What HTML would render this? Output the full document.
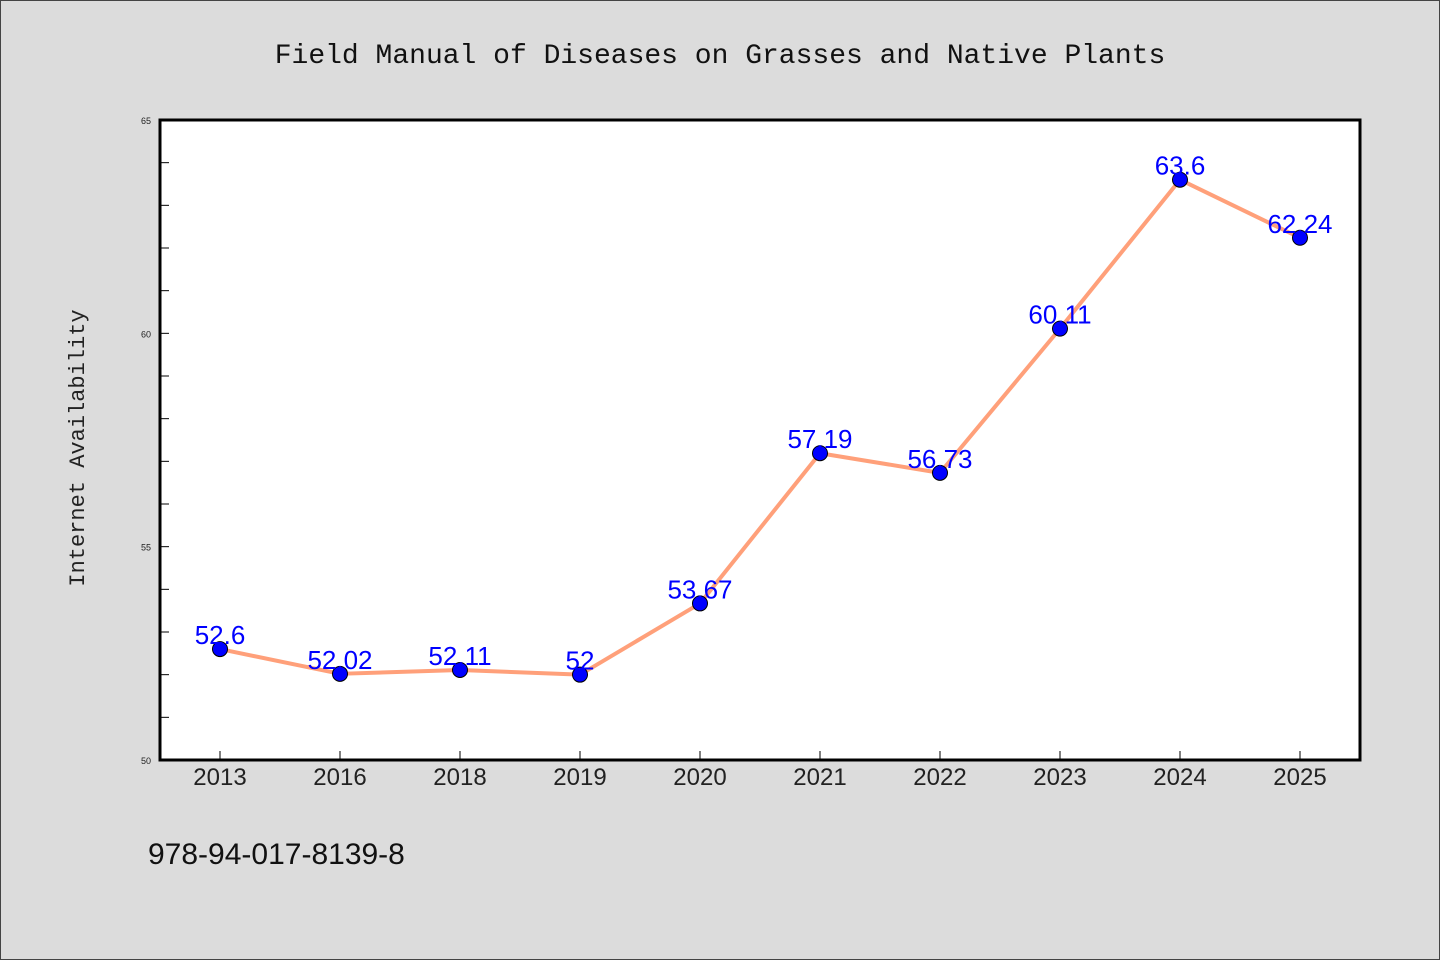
<!DOCTYPE html>
<html><head><meta charset="utf-8"><style>
html,body{margin:0;padding:0;background:#dcdcdc;}
svg{display:block;}
</style></head><body>
<svg width="1440" height="960" xmlns="http://www.w3.org/2000/svg">
<rect x="0.5" y="0.5" width="1439" height="959" fill="#dcdcdc" stroke="#444"/>
<text x="720" y="63" text-anchor="middle" font-family="Liberation Mono, monospace" font-size="28" fill="#111">Field Manual of Diseases on Grasses and Native Plants</text>
<rect x="160" y="120" width="1200" height="640" fill="#fff"/>
<g id="ticks"></g>
<g id="series"></g>
<rect x="160" y="120" width="1200" height="640" fill="none" stroke="#000" stroke-width="3"/>
<text transform="translate(84,448) rotate(-90)" text-anchor="middle" font-family="Liberation Mono, monospace" font-size="22" fill="#222">Internet Availability</text>
<text x="148" y="864" font-family="Liberation Sans, sans-serif" font-size="30" fill="#111">978-94-017-8139-8</text>
</svg>
<script>
const categories = ["2013","2016","2018","2019","2020","2021","2022","2023","2024","2025"];
const values = [52.6,52.02,52.11,52,53.67,57.19,56.73,60.11,63.6,62.24];
const valueLabels = ["52.6","52.02","52.11","52","53.67","57.19","56.73","60.11","63.6","62.24"];
const yTickLabels = [50,55,60,65];
const NS="http://www.w3.org/2000/svg";
const x0=160,x1=1360,y0=760,y1=120,yMin=50,yMax=65;
function xs(i){return x0+(x1-x0)/categories.length*(i+0.5);}
function ys(v){return y0-(v-yMin)/(yMax-yMin)*(y0-y1);}
function mk(tag,attrs,parent){const e=document.createElementNS(NS,tag);for(const k in attrs)e.setAttribute(k,attrs[k]);parent.appendChild(e);return e;}
const tg=document.getElementById('ticks');
for(let v=yMin;v<=yMax;v++){
  const t=mk('line',{x1:x0,x2:x0+9,y1:ys(v),y2:ys(v),stroke:'#000','stroke-width':1},tg);
  
  
}
yTickLabels.forEach(v=>{
  const t=mk('text',{x:151,y:ys(v)+4,'text-anchor':'end','font-family':'Liberation Sans, sans-serif','font-size':9,fill:'#222'},tg);
  t.textContent=v;
  
  
});
categories.forEach((c,i)=>{
  const t=mk('line',{x1:xs(i),x2:xs(i),y1:y0,y2:y0-9,stroke:'#000','stroke-width':1},tg);
  
  
  const l=mk('text',{x:xs(i),y:785,'text-anchor':'middle','font-family':'Liberation Sans, sans-serif','font-size':24,fill:'#222'},tg);
  l.textContent=c;
  
  
});
const sg=document.getElementById('series');
const pts=values.map((v,i)=>xs(i)+','+ys(v)).join(' ');
const pl=mk('polyline',{points:pts,fill:'none',stroke:'#ffa07a','stroke-width':4,'stroke-linejoin':'round'},sg);


values.forEach((v,i)=>{
  const c=mk('circle',{cx:xs(i),cy:ys(v),r:7.5,fill:'#0000ff',stroke:'#000','stroke-width':1},sg);
  
  
});
values.forEach((v,i)=>{
  const t=mk('text',{x:xs(i),y:ys(v)-5,'text-anchor':'middle','font-family':'Liberation Sans, sans-serif','font-size':26,fill:'#0000ff'},sg);
  t.textContent=valueLabels[i];
  
  
});
</script>
</body></html>
